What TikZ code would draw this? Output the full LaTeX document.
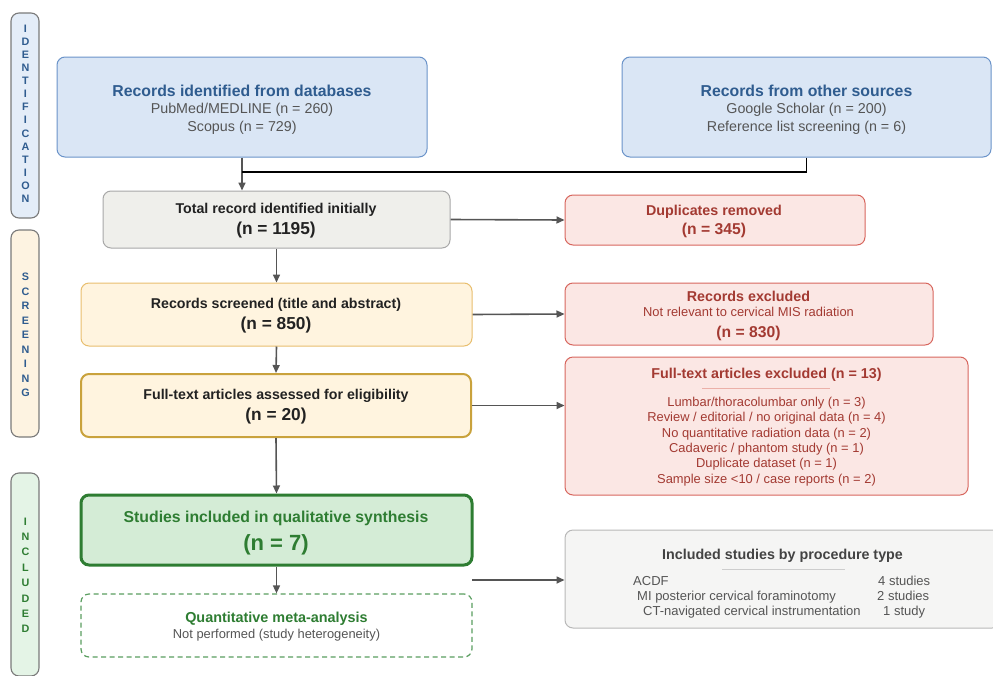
\documentclass[tikz,border=0pt]{standalone}
\usepackage{fontspec}
\setmainfont{Liberation Sans}
\usetikzlibrary{arrows.meta}
\definecolor{blueFill}{HTML}{DAE6F5}
\definecolor{blueBorder}{HTML}{6A93C9}
\definecolor{blueText}{HTML}{2F5C8F}
\definecolor{sideBlue}{HTML}{E4EDF8}
\definecolor{sideCream}{HTML}{FDF3E1}
\definecolor{sideGreen}{HTML}{E4F4E6}
\definecolor{sideBorder}{HTML}{7A7A7A}
\definecolor{greenText}{HTML}{2E7D32}
\definecolor{grayFill}{HTML}{EFEFEB}
\definecolor{grayBorder}{HTML}{A8A8A8}
\definecolor{creamFill}{HTML}{FFF4DF}
\definecolor{creamBorder}{HTML}{E8BE6E}
\definecolor{goldBorder}{HTML}{C9A23C}
\definecolor{greenFill}{HTML}{D4ECD6}
\definecolor{greenBorder}{HTML}{2E7D32}
\definecolor{quantBorder}{HTML}{5A9E60}
\definecolor{redFill}{HTML}{FBE7E4}
\definecolor{redBorder}{HTML}{D7665E}
\definecolor{redText}{HTML}{A33A32}
\definecolor{redRule}{HTML}{EBB0A8}
\definecolor{procFill}{HTML}{F5F5F4}
\definecolor{procBorder}{HTML}{B8B8B8}
\definecolor{textGray}{HTML}{555555}
\definecolor{darkText}{HTML}{222222}
\definecolor{arr}{HTML}{555555}
\begin{document}
\begin{tikzpicture}[x=1pt,y=-1pt,
  box/.style={draw, rounded corners=8pt, inner sep=0pt, line width=1pt},
  sidebox/.style={box, draw=sideBorder, line width=1.1pt, minimum width=28pt},
  sideletter/.style={inner sep=0pt, anchor=center, font=\fontsize{10.8}{11}\selectfont\bfseries},
  lbl/.style={inner sep=0pt, anchor=base},
  ttl/.style={lbl, text=blueText, font=\fontsize{15.8}{18}\selectfont\bfseries},
  sub/.style={lbl, text=textGray, font=\fontsize{14.3}{17}\selectfont},
  bhead/.style={lbl, text=darkText, font=\fontsize{14.2}{17}\selectfont\bfseries},
  bnum/.style={lbl, text=darkText, font=\fontsize{17.3}{20}\selectfont\bfseries},
  rhead/.style={lbl, text=redText, font=\fontsize{14.3}{17}\selectfont\bfseries},
  ritem/.style={lbl, text=redText, font=\fontsize{12.9}{15}\selectfont},
  rnum/.style={lbl, text=redText, font=\fontsize{15.7}{18}\selectfont\bfseries},
  pitem/.style={inner sep=0pt, anchor=base west, text=textGray, font=\fontsize{13}{15}\selectfont},
  conn/.style={draw=arr, line width=1.6pt, -{Triangle[length=8pt,width=7pt]}},
  blk/.style={draw=black, line width=1.8pt},
]
\useasboundingbox (0,0) rectangle (993,675);

% side bars
\node[sidebox, fill=sideBlue, minimum height=205pt] (sideI) at (25,115.5) {};
\node[sidebox, fill=sideCream, minimum height=207pt] (sideS) at (25,333.5) {};
\node[sidebox, fill=sideGreen, minimum height=203pt] (sideC) at (25,574.5) {};
\foreach \c [count=\i from 0] in {I,D,E,N,T,I,F,I,C,A,T,I,O,N}
  \node[sideletter, text=blueText] (li\i) at (25.5,29+13.04*\i) {\c};
\foreach \c [count=\i from 0] in {S,C,R,E,E,N,I,N,G}
  \node[sideletter, text=blueText] (ls\i) at (25.5,277+14.5*\i) {\c};
\foreach \c [count=\i from 0] in {I,N,C,L,U,D,E,D}
  \node[sideletter, text=greenText] (lc\i) at (25.5,521.5+15.36*\i) {\c};

% boxes
\node[box, fill=blueFill, draw=blueBorder, minimum width=370pt, minimum height=100pt] (db) at (242,107) {};
\node[box, fill=blueFill, draw=blueBorder, minimum width=369pt, minimum height=100pt] (other) at (806.5,107) {};
\node[box, fill=grayFill, draw=grayBorder, minimum width=347pt, minimum height=57pt] (total) at (276.5,219.5) {};
\node[box, fill=creamFill, draw=creamBorder, minimum width=391pt, minimum height=63pt] (screened) at (276.5,314.5) {};
\node[box, fill=creamFill, draw=goldBorder, line width=2pt, minimum width=390pt, minimum height=63pt] (assessed) at (276,405.5) {};
\node[box, fill=greenFill, draw=greenBorder, line width=3pt, minimum width=391pt, minimum height=70pt] (studies) at (276.5,530) {};
\node[box, fill=white, draw=quantBorder, line width=1.2pt, dash pattern=on 5pt off 3.5pt, minimum width=391pt, minimum height=63pt] (quant) at (276.5,625.5) {};
\node[box, fill=redFill, draw=redBorder, minimum width=300pt, minimum height=50pt] (dup) at (715,220) {};
\node[box, fill=redFill, draw=redBorder, minimum width=368pt, minimum height=62pt] (recex) at (749,314) {};
\node[box, fill=redFill, draw=redBorder, minimum width=403pt, minimum height=138pt] (fullex) at (766.5,426) {};
\node[box, fill=procFill, draw=procBorder, minimum width=435pt, minimum height=98pt] (proc) at (782.5,579) {};

% connectors
\coordinate (jn) at (242,172);
\coordinate (sq) at (472,580);
\draw[conn] (db.south) -- (db.south |- total.north);
\draw[blk] (other.south) |- (jn);
\draw[conn] (total.east) -- (dup.west);
\draw[conn] (total.south) -- (screened.north);
\draw[conn] (screened.east) -- (recex.west);
\draw[conn] (screened.south) -- (assessed.north);
\draw[conn] (assessed.east) -- (assessed.east -| fullex.west);
\draw[conn] (assessed.south) -- (studies.north);
\draw[conn] (studies.south) -- (quant.north);
\draw[conn] (sq) -- (sq -| proc.west);

% texts: top boxes
\node[ttl] (dbT) at (242,96) {Records identified from databases};
\node[sub] (dbA) at (242,113) {PubMed/MEDLINE (n = 260)};
\node[sub] (dbB) at (242,131) {Scopus (n = 729)};
\node[ttl] (otT) at (806.5,96) {Records from other sources};
\node[sub] (otA) at (806.5,113) {Google Scholar (n = 200)};
\node[sub] (otB) at (806.5,131) {Reference list screening (n = 6)};

% left column
\node[bhead] (toT) at (276,213) {Total record identified initially};
\node[bnum] (toN) at (276,234) {(n = 1195)};
\node[bhead] (scT) at (276,308) {Records screened (title and abstract)};
\node[bnum] (scN) at (276,329) {(n = 850)};
\node[bhead] (asT) at (276,399) {Full-text articles assessed for eligibility};
\node[bnum] (asN) at (276,420) {(n = 20)};
\node[lbl, text=greenText, font=\fontsize{15.8}{18}\selectfont\bfseries] (stT) at (276,522) {Studies included in qualitative synthesis};
\node[lbl, text=greenText, font=\fontsize{22}{26}\selectfont\bfseries] (stN) at (276,550) {(n = 7)};
\node[lbl, text=greenText, font=\fontsize{14.4}{17}\selectfont\bfseries] (quT) at (276.5,622) {Quantitative meta-analysis};
\node[lbl, text=textGray, font=\fontsize{12.9}{15}\selectfont] (quS) at (276.5,638) {Not performed (study heterogeneity)};

% right column
\node[rhead] (duT) at (714,215) {Duplicates removed};
\node[rnum] (duN) at (714,234) {(n = 345)};
\node[rhead] (reT) at (748.5,301) {Records excluded};
\node[ritem] (reS) at (748.5,316.5) {Not relevant to cervical MIS radiation};
\node[rnum] (reN) at (748.5,337) {(n = 830)};
\node[rhead] (fuT) at (766.5,378.5) {Full-text articles excluded (n = 13)};
\draw[draw=redRule, line width=0.9pt] (702,388) -- (830,388);
\node[ritem] (fu1) at (766.5,406) {Lumbar/thoracolumbar only (n = 3)};
\node[ritem] (fu2) at (766.5,421.5) {Review / editorial / no original data (n = 4)};
\node[ritem] (fu3) at (766.5,437) {No quantitative radiation data (n = 2)};
\node[ritem] (fu4) at (766.5,452) {Cadaveric / phantom study (n = 1)};
\node[ritem] (fu5) at (766.5,467.5) {Duplicate dataset (n = 1)};
\node[ritem] (fu6) at (766.5,483) {Sample size <10 / case reports (n = 2)};

\node[lbl, text=darkText!85, font=\fontsize{14.3}{17}\selectfont\bfseries] (prT) at (782.5,559) {Included studies by procedure type};
\draw[draw=procBorder!70, line width=0.8pt] (722,569) -- (845,569);
\node[pitem] (pr1) at (633,585) {ACDF};
\node[pitem] (pr2) at (637,600) {MI posterior cervical foraminotomy};
\node[pitem] (pr3) at (643,615) {CT-navigated cervical instrumentation};
\node[pitem] (pr4) at (878,585) {4 studies};
\node[pitem] (pr5) at (877,600) {2 studies};
\node[pitem] (pr6) at (883,615) {1 study};
\end{tikzpicture}
\end{document}
